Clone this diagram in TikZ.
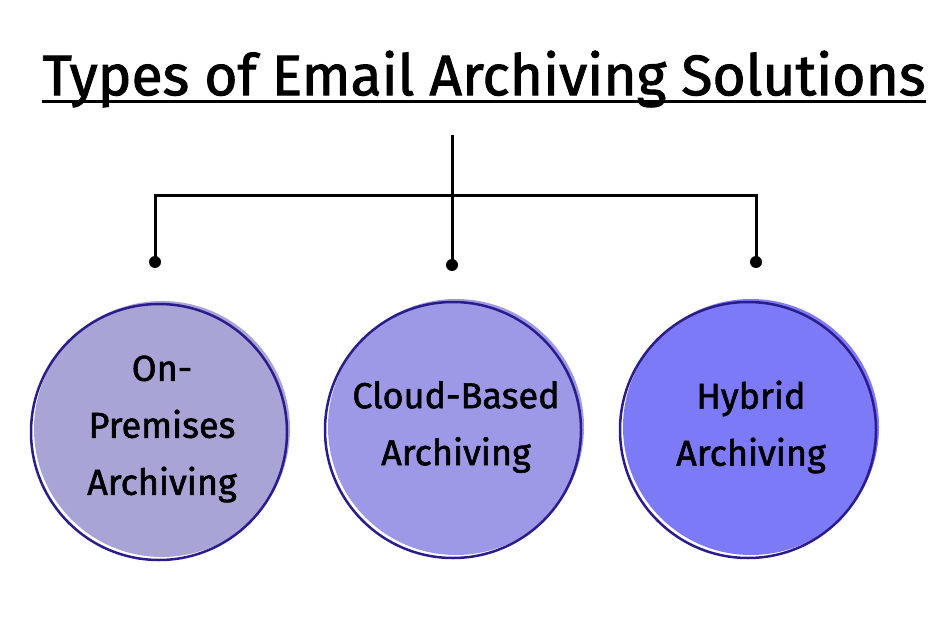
\documentclass[tikz,border=0pt]{standalone}
\usepackage{fontspec}
\setmainfont{Fira Sans}[BoldFont=Fira Sans, BoldFeatures={FakeBold=1.6}]
\usetikzlibrary{positioning}
\definecolor{palNavy}{HTML}{2B1C8C}
\definecolor{palLilac}{HTML}{A9A4D6}
\definecolor{palPeri}{HTML}{9E99E6}
\definecolor{palViolet}{HTML}{7D7AF8}
\tikzset{
  solnode/.style={circle, minimum size=256pt, inner sep=0pt, align=center,
                  font=\fontsize{36}{57}\selectfont\bfseries},
  ringnode/.style={circle, draw=palNavy, line width=2.5pt, minimum size=256pt},
  linkline/.style={line width=3pt, black},
  dotnode/.style={circle, fill=black, inner sep=0pt, minimum size=12pt},
}
\begin{document}
\begin{tikzpicture}[x=1pt, y=-1pt]
\useasboundingbox (0,0) rectangle (950,628);
%% Title
\node[font=\fontsize{57}{60}\selectfont\bfseries] (title) at (484,79)
  {Types of Email Archiving Solutions};
\draw[line width=3pt] (42,102) -- (926,102);
%% Circles
\node[solnode, fill=palLilac]  (c1) at (162,429) {On-\\Premises\\Archiving};
\node[solnode, fill=palPeri]   (c2) at (456,427) {Cloud-Based\\Archiving};
\node[solnode, fill=palViolet] (c3) at (751,427) {Hybrid\\Archiving};
\node[ringnode] (r1) at (159,432) {};
\node[ringnode] (r2) at (453,430) {};
\node[ringnode] (r3) at (748,430) {};
%% Connectors
\coordinate (top) at (452,135);
\coordinate (hub) at (452,196);
\node[dotnode] (d1) at (155,262) {};
\node[dotnode] (d2) at (452,265) {};
\node[dotnode] (d3) at (756,262) {};
\draw[linkline] (top) -- (d2.center);
\draw[linkline] (d1.center) |- (hub) -| (d3.center);
\end{tikzpicture}
\end{document}
